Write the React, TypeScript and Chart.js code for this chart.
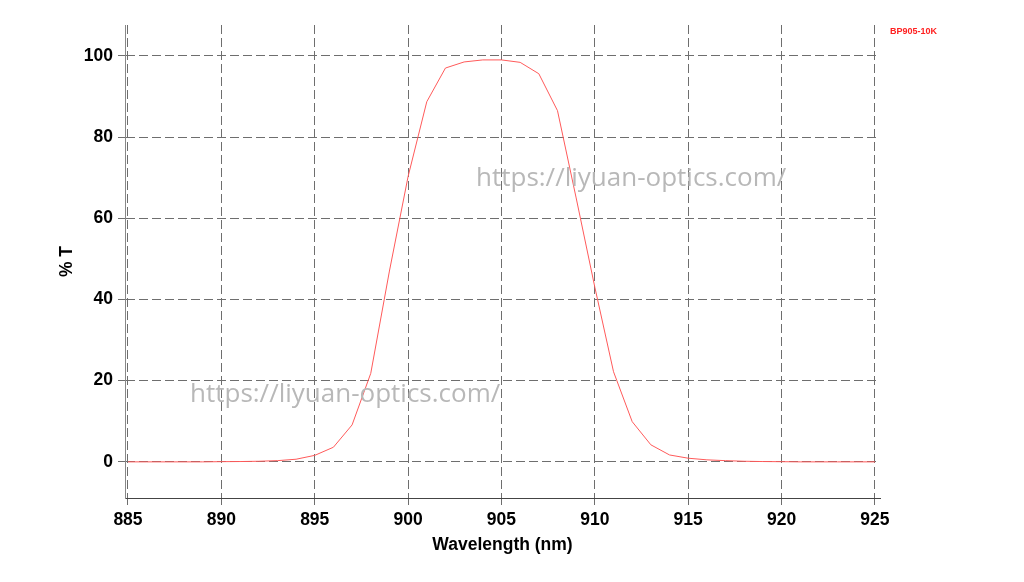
import React, { useEffect, useRef } from "react";
import { Chart, registerables } from "chart.js";

Chart.register(...registerables);

const wavelengths = [
  885, 886, 887, 888, 889, 890, 891, 892, 893, 894, 895, 896, 897, 898, 899, 900,
  901, 902, 903, 904, 905, 906, 907, 908, 909, 910, 911, 912, 913, 914, 915, 916,
  917, 918, 919, 920, 921, 922, 923, 924, 925,
];
const transmission = [
  0, 0, 0, 0, 0, 0.05, 0.08, 0.15, 0.3, 0.65, 1.6, 3.6, 9.1, 21.8, 47, 70.3,
  88.7, 97.0, 98.5, 99.0, 99.0, 98.4, 95.6, 86.5, 65, 43, 22.2, 9.9, 4.2, 1.7, 0.9, 0.5,
  0.3, 0.15, 0.08, 0.04, 0, 0, 0, 0, 0,
];
const xTicks = [885, 890, 895, 900, 905, 910, 915, 920, 925];
const yTicks = [0, 20, 40, 60, 80, 100];
const xRange = [884.84, 925.27];
const yRange = [-8.9, 107.6];
const seriesName = "BP905-10K";
const xTitle = "Wavelength (nm)";
const yTitle = "% T";
const watermark = "https://liyuan-optics.com/";

export default function App() {
  const canvasRef = useRef<HTMLCanvasElement | null>(null);

  useEffect(() => {
    const canvas = canvasRef.current;
    if (!canvas) return;
    const tickFont = { family: "'Liberation Sans', Arial, sans-serif", size: 17.5, weight: "bold" as const };
    const chart = new Chart(canvas, {
      type: "line",
      data: {
        datasets: [
          {
            label: seriesName,
            data: wavelengths.map((w, i) => ({ x: w, y: transmission[i] })),
            borderColor: "#ff5a5a",
            borderWidth: 1,
            pointRadius: 0,
            tension: 0,
            fill: false,
          },
        ],
      },
      options: {
        responsive: false,
        animation: false,
        layout: { padding: { left: 0, top: 25, right: 144, bottom: 0 } },
        plugins: { legend: { display: false }, tooltip: { enabled: false } },
        scales: {
          x: {
            type: "linear",
            min: xRange[0],
            max: xRange[1],
            afterBuildTicks: (s: any) => {
              s.ticks = xTicks.map((v) => ({ value: v }));
            },
            afterFit: (s: any) => {
              s.height = 84;
            },
            grid: { color: "#6e6e6e", lineWidth: 1, tickLength: 7 },
            border: { color: "#444", width: 1, dash: [9, 4] },
            ticks: {
              color: "#000",
              font: tickFont,
              padding: 5,
              maxRotation: 0,
              autoSkip: false,
              callback: (v: any) => String(v),
            },
            title: {
              display: true,
              text: xTitle,
              color: "#000",
              font: tickFont,
              padding: { top: 0, bottom: 26 },
            },
          },
          y: {
            type: "linear",
            min: yRange[0],
            max: yRange[1],
            afterBuildTicks: (s: any) => {
              s.ticks = yTicks.map((v) => ({ value: v }));
            },
            afterFit: (s: any) => {
              s.width = 125;
            },
            grid: { color: "#6e6e6e", lineWidth: 1, tickLength: 7 },
            border: { color: "#888", width: 1, dash: [9, 4] },
            ticks: {
              color: "#000",
              font: tickFont,
              padding: 5,
              autoSkip: false,
              callback: (v: any) => String(v),
            },
            title: {
              display: true,
              text: yTitle,
              color: "#000",
              font: tickFont,
              padding: { top: 57, bottom: 0 },
            },
          },
        },
      },
    });
    return () => chart.destroy();
  }, []);

  const wm: React.CSSProperties = {
    position: "absolute",
    fontFamily: "'Open Sans', sans-serif",
    fontSize: 26,
    lineHeight: "26px",
    color: "#b8b8b8",
    whiteSpace: "nowrap",
    pointerEvents: "none",
  };

  return (
    <div style={{ position: "absolute", left: 0, top: 0, width: 1024, height: 582, background: "#fff" }}>
      <canvas ref={canvasRef} width={1024} height={582} style={{ display: "block" }} />
      <div
        style={{
          position: "absolute",
          left: 890,
          top: 25,
          fontFamily: "'Liberation Sans', Arial, sans-serif",
          fontWeight: "bold",
          fontSize: 9,
          lineHeight: "12px",
          color: "#ff2020",
          whiteSpace: "nowrap",
        }}
      >
        {seriesName}
      </div>
      <div style={{ ...wm, left: 476, top: 163 }}>{watermark}</div>
      <div style={{ ...wm, left: 190, top: 379 }}>{watermark}</div>
    </div>
  );
}
